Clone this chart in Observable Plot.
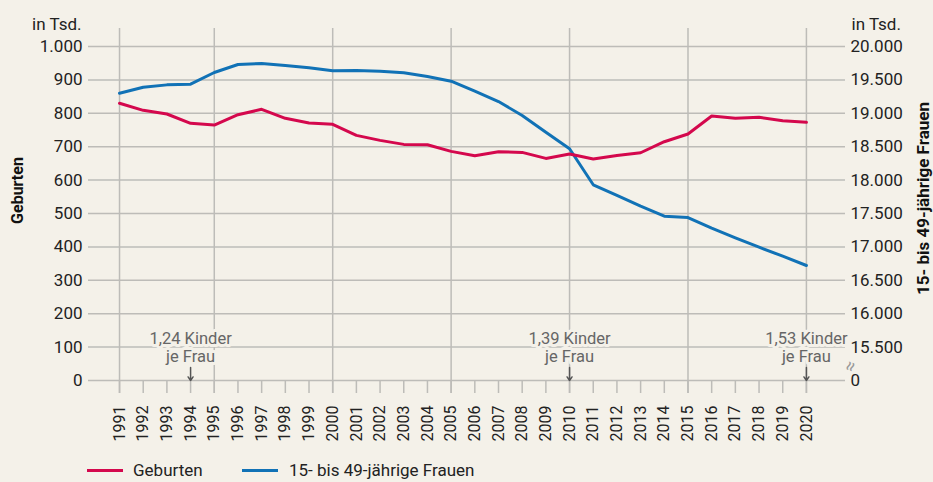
<!DOCTYPE html>
<html>
<head>
<meta charset="utf-8">
<script src="https://cdn.jsdelivr.net/npm/d3@7"></script>
<script src="https://cdn.jsdelivr.net/npm/@observablehq/plot@0.6"></script>
<style>
  html, body { margin: 0; padding: 0; background: #f4f1e9; }
  #chart { width: 933px; height: 450px; }
  #legend { position: relative; width: 933px; height: 32px; font: 17px Roboto, sans-serif; color: #222; }
  #legend .sw { position: absolute; height: 3px; width: 36px; top: 19px; }
  #legend .lb { position: absolute; top: 10px; line-height: 20px; }
</style>
</head>
<body>
<div id="chart"></div>
<div id="legend">
  <div class="sw" style="left:87px;background:#d4084d"></div>
  <div class="lb" style="left:133px">Geburten</div>
  <div class="sw" style="left:242px;background:#1172b6"></div>
  <div class="lb" style="left:289px">15- bis 49-jährige Frauen</div>
</div>
<script>
const years = [1991, 1992, 1993, 1994, 1995, 1996, 1997, 1998, 1999, 2000,
  2001, 2002, 2003, 2004, 2005, 2006, 2007, 2008, 2009, 2010,
  2011, 2012, 2013, 2014, 2015, 2016, 2017, 2018, 2019, 2020];
// Geburten, in Tsd.
const births = [830, 809, 798, 770, 765, 796, 812, 785, 771, 767,
  734, 719, 707, 706, 686, 673, 685, 683, 665, 678,
  663, 674, 682, 715, 738, 792, 785, 788, 778, 773];
// 15- bis 49-jährige Frauen, in Tsd.
const women = [19300, 19390, 19426, 19436, 19611, 19731, 19746, 19716, 19681, 19636,
  19641, 19630, 19606, 19551, 19481, 19331, 19177, 18967, 18717, 18469,
  17930, 17770, 17609, 17460, 17440, 17280, 17136, 16996, 16861, 16722];

const leftTicks = [0, 100, 200, 300, 400, 500, 600, 700, 800, 900, 1000];
const leftLabels = ["0", "100", "200", "300", "400", "500", "600", "700", "800", "900", "1.000"];
const rightLabels = ["0", "15.500", "16.000", "16.500", "17.000", "17.500", "18.000", "18.500", "19.000", "19.500", "20.000"];
const gridYears = [1991, 1995, 2000, 2005, 2010, 2015, 2020];

const annoYears = [1994, 2010, 2020];
const annoLabels = ["1,24 Kinder\nje Frau", "1,39 Kinder\nje Frau", "1,53 Kinder\nje Frau"];

const RED = "#d4084d", BLUE = "#1172b6", BG = "#f4f1e9", GRID = "#bdbcb8";

const data = years.map((year, i) => ({year, births: births[i], women: women[i]}));
const annos = annoYears.map((year, i) => ({year, label: annoLabels[i]}));
const leftMap = new Map(leftTicks.map((t, i) => [t, leftLabels[i]]));
const rightMap = new Map(leftTicks.map((t, i) => [t, rightLabels[i]]));

const chart = Plot.plot({
  width: 933,
  height: 450,
  marginLeft: 88,
  marginRight: 88,
  marginTop: 28,
  marginBottom: 70,
  style: {background: "transparent", fontFamily: "Roboto, sans-serif", color: "#222", overflow: "visible"},
  x: {type: "linear", domain: [1989.69, 2021.65]},
  y: {domain: [0, 1054]},
  marks: [
    Plot.gridY(leftTicks, {stroke: GRID, strokeOpacity: 1, strokeWidth: 1.5}),
    Plot.ruleX(gridYears, {stroke: GRID, strokeWidth: 1.5, insetBottom: -13}),
    Plot.axisX(years, {
      tickSize: 13, tickPadding: 12, tickRotate: -90, stroke: GRID, strokeWidth: 1.5,
      tickFormat: d => String(d), fontSize: 16, fill: "#222", label: null
    }),
    Plot.axisY(leftTicks, {anchor: "left", tickSize: 0, tickPadding: 6, tickFormat: d => leftMap.get(d), fontSize: 17, label: null}),
    Plot.axisY(leftTicks, {anchor: "right", tickSize: 0, tickPadding: 5, tickFormat: d => rightMap.get(d), fontSize: 17, label: null}),
    Plot.text(["in Tsd."], {frameAnchor: "top-left", dx: -7, dy: -11, textAnchor: "end", fontSize: 17, fill: "#222"}),
    Plot.text(["in Tsd."], {frameAnchor: "top-right", dx: 6, dy: -11, textAnchor: "start", fontSize: 17, fill: "#222"}),
    Plot.text(["Geburten"], {frameAnchor: "left", textAnchor: "middle", rotate: -90, dx: -71, dy: -14, fontWeight: "bold", fontSize: 16, fill: "#111"}),
    Plot.text(["15- bis 49-jährige Frauen"], {frameAnchor: "right", textAnchor: "middle", rotate: -90, dx: 78, dy: -6, fontWeight: "bold", fontSize: 17, fill: "#111"}),
    Plot.text(["≈"], {frameAnchor: "bottom-right", dx: 12, dy: -17, rotate: -70, fontSize: 18, fill: "#999"}),
    Plot.text(annos, {x: "year", y: 54, text: "label", lineAnchor: "bottom", lineHeight: 1.1, fontSize: 16.5, fill: "#666", stroke: BG, strokeWidth: 6}),
    Plot.arrow(annos, {x: "year", y1: 39, y2: 0, stroke: "#555", strokeWidth: 1.5, headLength: 7, headAngle: 70}),
    Plot.line(data, {x: "year", y: d => (d.women - 15000) / 5, stroke: BLUE, strokeWidth: 3}),
    Plot.line(data, {x: "year", y: "births", stroke: RED, strokeWidth: 3})
  ]
});
document.getElementById("chart").appendChild(chart);
</script>
</body>
</html>
